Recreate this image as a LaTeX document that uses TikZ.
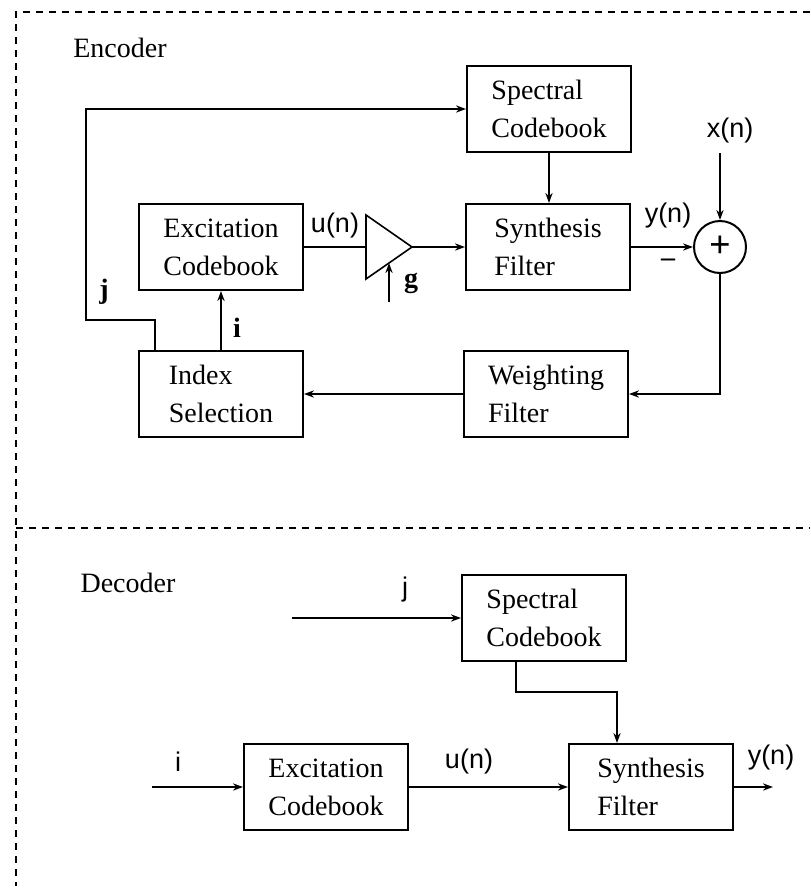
\documentclass[tikz,border=0pt]{standalone}
\usepackage{fontspec}
\setmainfont{Liberation Serif}
\setsansfont{Liberation Sans}
\usepackage{tikz}
\usetikzlibrary{positioning,arrows.meta}

\begin{document}
\begin{tikzpicture}[x=0.5pt,y=-0.5pt,
      blk/.style={draw,line width=1pt,minimum width=82pt,minimum height=43pt,align=left,inner sep=0pt,font=\fontsize{14}{19}\selectfont},
      lab/.style={font=\fontsize{14}{16}\selectfont,inner sep=0pt},
      sig/.style={font=\sffamily\fontsize{13.5}{16}\selectfont,inner sep=0pt},
      idx/.style={font=\bfseries\fontsize{14}{16}\selectfont,inner sep=0pt},
      ar/.style={line width=0.8pt,-{Stealth[length=5pt,width=3.6pt]}},
      ln/.style={line width=0.8pt},
      frm/.style={line width=0.7pt,dash pattern=on 3.5pt off 3pt}]
    \useasboundingbox (0,0) rectangle (810,889);
    % dashed frame round both halves
    \draw[frm] (810,12) -- (16,12) -- (16,886);
    \draw[frm] (16,528) -- (810,528);
    \node[lab] (enc) at (120,48) {Encoder};
    \node[lab] (dec) at (128,583) {Decoder};

    % encoder
    \foreach \n/\x/\y/\t in {spec/549/109/Spectral\\Codebook, synth/548/247/Synthesis\\Filter,
        exc/221/247/Excitation\\Codebook, wgt/546/394/Weighting\\Filter, isel/221/394/Index\\Selection} {
      \node[blk] (\n) at (\x,\y) {\t};
    }
    \node[draw,circle,line width=1pt,minimum size=26pt,inner sep=0pt,
          font=\bfseries\fontsize{19}{19}\selectfont] (sum) at (720,247) {+};
    % gain triangle
    \coordinate (ampb) at (366,247);
    \coordinate (ampt) at (412,247);
    \draw[ln] (366,215) -- (ampt) -- (366,279) -- cycle;
    \coordinate (gin) at (389,302);
    \coordinate (gtip) at (389,263);
    \coordinate (xin) at (720,153);
    \coordinate (jk) at (86,320);

    \draw[ln] (exc.east) -- (ampb);
    \draw[ar] (ampt) -- (synth.west);
    \draw[ar] (gin) -- (gtip);
    \draw[ar] (spec.south) -- (spec.south |- synth.north);
    \draw[ar] (synth.east) -- (sum.west);
    \draw[ar] (xin) -- (sum.north);
    \draw[ar] (sum.south) |- (wgt.east);
    \draw[ar] (wgt.west) -- (isel.east);
    \draw[ar] (isel.north) -- (exc.south);
    \draw[ar] ([xshift=8.5pt]isel.north west) |- (jk) |- (spec.west);

    \node[sig] (lu) at (335,226) {u(n)};
    \node[sig] (lx) at (730,131) {x(n)};
    \node[sig] (ly) at (668,216) {y(n)};
    \node[idx] (lm) at (668,263) {--};
    \node[idx] (lg) at (411,283) {g};
    \node[idx] (li) at (237,328) {i};
    \node[idx] (lj) at (104,292) {j};

    % decoder
    \foreach \n/\x/\y/\t in {dspec/544/618/Spectral\\Codebook, dexc/326/787/Excitation\\Codebook,
        dsynth/651/787/Synthesis\\Filter} {
      \node[blk] (\n) at (\x,\y) {\t};
    }
    \coordinate (djin) at (292,618);
    \coordinate (diin) at (152,787);
    \coordinate (dout) at (773,787);
    \coordinate (dk) at (617,692);

    \draw[ar] (djin) -- (dspec.west);
    \draw[ar] (diin) -- (dexc.west);
    \draw[ar] (dexc.east) -- (dsynth.west);
    \draw[ar] (dsynth.east) -- (dout);
    \draw[ar] ([xshift=-14pt]dspec.south) |- (dk) -- (dk |- dsynth.north);

    \node[sig] (dlj) at (405,590) {j};
    \node[sig] (dli) at (178,762) {i};
    \node[sig] (dlu) at (469,762) {u(n)};
    \node[sig] (dly) at (771,758) {y(n)};
  \end{tikzpicture}
\end{document}
